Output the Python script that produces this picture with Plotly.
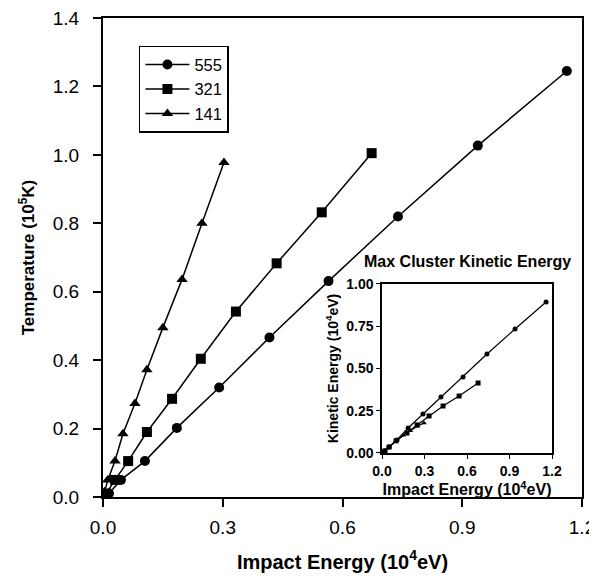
import plotly.graph_objects as go

# ---- data (main panel) ----
x555 = [0.015, 0.045, 0.105, 0.185, 0.291, 0.417, 0.565, 0.739, 0.939, 1.162]
t555 = [0.010, 0.050, 0.105, 0.202, 0.320, 0.466, 0.631, 0.820, 1.027, 1.245]
x321 = [0.008, 0.030, 0.063, 0.110, 0.173, 0.245, 0.333, 0.435, 0.548, 0.673]
t321 = [0.010, 0.050, 0.105, 0.190, 0.287, 0.404, 0.542, 0.683, 0.832, 1.005]
x141 = [0.004, 0.012, 0.030, 0.050, 0.080, 0.110, 0.150, 0.198, 0.248, 0.303]
t141 = [0.015, 0.050, 0.105, 0.185, 0.273, 0.372, 0.495, 0.636, 0.800, 0.978]

# ---- data (inset: max cluster kinetic energy) ----
ix555 = [0.0, 0.02, 0.05, 0.106, 0.184, 0.289, 0.416, 0.572, 0.741, 0.939, 1.158]
ik555 = [0.0, 0.012, 0.035, 0.077, 0.148, 0.231, 0.331, 0.450, 0.586, 0.734, 0.893]
ix321 = [0.0, 0.02, 0.05, 0.099, 0.176, 0.247, 0.332, 0.431, 0.544, 0.678]
ik321 = [0.0, 0.012, 0.035, 0.072, 0.118, 0.166, 0.219, 0.278, 0.337, 0.414]
ix141 = [0.0, 0.02, 0.05, 0.10, 0.15, 0.20, 0.25, 0.296]
ik141 = [0.0, 0.013, 0.036, 0.074, 0.105, 0.132, 0.158, 0.178]

main_xticks = [0, 0.3, 0.6, 0.9, 1.2]
main_xlabels = ["0.0", "0.3", "0.6", "0.9", "1.2"]
main_yticks = [0, 0.2, 0.4, 0.6, 0.8, 1.0, 1.2, 1.4]
main_ylabels = ["0.0", "0.2", "0.4", "0.6", "0.8", "1.0", "1.2", "1.4"]
inset_yticks = [0, 0.25, 0.5, 0.75, 1.0]
inset_ylabels = ["0.00", "0.25", "0.50", "0.75", "1.00"]

series = [
    ("555", x555, t555, ix555, ik555, "circle"),
    ("321", x321, t321, ix321, ik321, "square"),
    ("141", x141, t141, ix141, ik141, "triangle-up"),
]

FONT = "Liberation Sans, Arial, sans-serif"
fig = go.Figure()
for name, x, y, ix, iy, sym in series:
    fig.add_trace(go.Scatter(
        x=x, y=y, name=name, mode="lines+markers",
        line=dict(color="black", width=1.5),
        marker=dict(symbol=sym, size=10, color="black"),
        xaxis="x", yaxis="y"))
for name, x, y, ix, iy, sym in series:
    fig.add_trace(go.Scatter(
        x=ix, y=iy, name=name, mode="lines+markers", showlegend=False,
        line=dict(color="black", width=1.2),
        marker=dict(symbol=sym, size=5, color="black"),
        xaxis="x2", yaxis="y2"))

axis_common = dict(showgrid=False, zeroline=False, showline=True,
                   linecolor="black", mirror=True, ticks="outside",
                   tickcolor="black", automargin=False,
                   ticklabeloverflow="allow")

# the page body adds an 8px margin, so the figure is sized 8px smaller
fig.update_layout(
    width=589, height=574,
    margin=dict(l=95, r=15, t=10, b=85),
    paper_bgcolor="white", plot_bgcolor="white",
    font=dict(family=FONT, color="black"),
    xaxis=dict(domain=[0, 1], range=[0, 1.2], tickvals=main_xticks,
               ticktext=main_xlabels,
               linewidth=2, ticklen=8, tickwidth=1.5, ticklabelstandoff=4,
               tickfont=dict(size=19),
               title=dict(text="<b>Impact Energy (10<sup>4</sup>eV)</b>",
                          font=dict(size=20), standoff=18),
               **axis_common),
    yaxis=dict(domain=[0, 1], range=[0, 1.4], tickvals=main_yticks,
               ticktext=main_ylabels,
               linewidth=2, ticklen=8, tickwidth=1.5, ticklabelstandoff=10,
               tickfont=dict(size=19),
               title=dict(text="<b>Temperature (10<sup>5</sup>K)</b>",
                          font=dict(size=17), standoff=14),
               **axis_common),
    xaxis2=dict(domain=[0.5825, 0.9374], anchor="y2", range=[0, 1.2],
                tickvals=main_xticks, ticktext=main_xlabels,
                linewidth=1.5, ticklen=4, tickwidth=1,
                tickfont=dict(size=14, family=FONT, weight="bold"),
                title=dict(text="<b>Impact Energy (10<sup>4</sup>eV)</b>",
                           font=dict(size=16), standoff=4),
                **axis_common),
    yaxis2=dict(domain=[0.0919, 0.4447], anchor="x2", range=[0, 1.0],
                tickvals=inset_yticks, ticktext=inset_ylabels,
                linewidth=1.5, ticklen=4, tickwidth=1,
                tickfont=dict(size=14, family=FONT, weight="bold"),
                title=dict(text="<b>Kinetic Energy (10<sup>4</sup>eV)</b>",
                           font=dict(size=14), standoff=4),
                **axis_common),
    legend=dict(x=0.075, y=0.942, xanchor="left", yanchor="top",
                bordercolor="black", borderwidth=1.5, bgcolor="white",
                font=dict(size=16.5), itemwidth=44),
    annotations=[dict(text="<b>Max Cluster Kinetic Energy</b>",
                      xref="paper", yref="paper", x=0.76, y=0.47,
                      xanchor="center", yanchor="bottom", showarrow=False,
                      font=dict(size=16))],
)

fig.write_html("out.html")
